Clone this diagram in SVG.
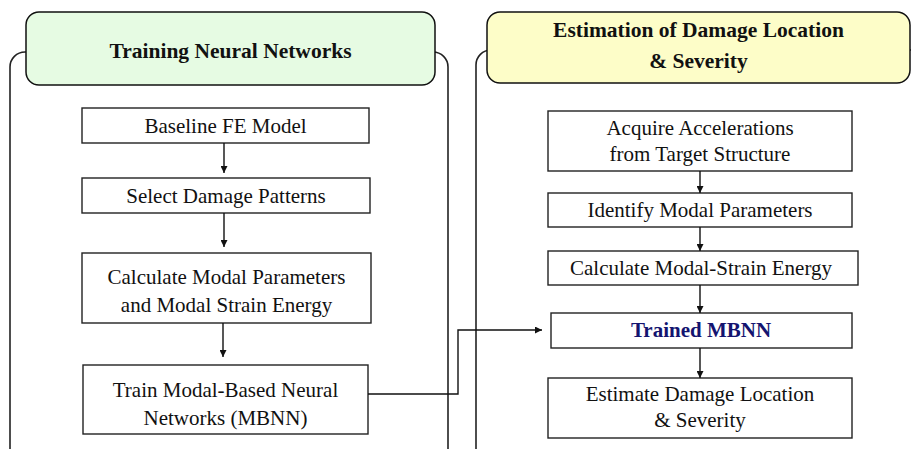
<svg xmlns="http://www.w3.org/2000/svg" width="911" height="449" viewBox="0 0 911 449">
<defs>
<style>
.panel{fill:none;stroke:#222;stroke-width:1.6}
.title-g{fill:#e6fbe3;stroke:#111;stroke-width:1.5}
.title-y{fill:#fdfdc8;stroke:#111;stroke-width:1.5}
.box{fill:#fff;stroke:#222;stroke-width:1.4}
.t{font-family:"Liberation Serif","Times New Roman",serif;font-size:21px;fill:#111;text-anchor:middle}
.tt{font-family:"Liberation Serif","Times New Roman",serif;font-size:21.5px;font-weight:bold;fill:#111;text-anchor:middle}
.tb{font-family:"Liberation Serif","Times New Roman",serif;font-size:21px;font-weight:bold;fill:#141470;text-anchor:middle}
.c{fill:none;stroke:#111;stroke-width:1.4}
</style>
<marker id="ah" viewBox="0 0 10 10" refX="10" refY="5" markerWidth="7" markerHeight="7" markerUnits="userSpaceOnUse" orient="auto">
<path d="M0,0 L10,5 L0,10 z" fill="#111"/>
</marker>
</defs>
<rect width="911" height="449" fill="#fff"/>

<g id="panel-left">
<rect class="panel" x="10" y="52" width="438" height="412" rx="15"/>
<rect class="title-g" x="26" y="12" width="409" height="73" rx="13"/>
<text class="tt" x="230.5" y="58">Training Neural Networks</text>
</g>

<g id="panel-right">
<rect class="panel" x="476" y="50" width="460" height="414" rx="15"/>
<rect class="title-y" x="487" y="12" width="423" height="71" rx="13"/>
<text class="tt" x="698.5" y="37">Estimation of Damage Location</text>
<text class="tt" x="698.5" y="68">&amp; Severity</text>
</g>

<g id="baseline">
<rect class="box" x="82" y="108" width="287" height="35"/>
<text class="t" x="225.5" y="133">Baseline FE Model</text>
</g>
<g id="select">
<rect class="box" x="82" y="178" width="288" height="35"/>
<text class="t" x="226" y="203">Select Damage Patterns</text>
</g>
<g id="calc">
<rect class="box" x="82" y="253" width="289" height="70"/>
<text class="t" x="226.5" y="284">Calculate Modal Parameters</text>
<text class="t" x="226.5" y="312">and Modal Strain Energy</text>
</g>
<g id="train">
<rect class="box" x="83" y="365" width="285" height="69"/>
<text class="t" x="225.5" y="397">Train Modal-Based Neural</text>
<text class="t" x="225.5" y="425">Networks (MBNN)</text>
</g>

<g id="acquire">
<rect class="box" x="548" y="111" width="304" height="60"/>
<text class="t" x="700" y="135">Acquire Accelerations</text>
<text class="t" x="700" y="161">from Target Structure</text>
</g>
<g id="identify">
<rect class="box" x="548" y="193" width="304" height="34"/>
<text class="t" x="700" y="217">Identify Modal Parameters</text>
</g>
<g id="calc-mse">
<rect class="box" x="548" y="251" width="310" height="34"/>
<text class="t" x="701" y="275">Calculate Modal-Strain Energy</text>
</g>
<g id="trained">
<rect class="box" x="551" y="313" width="301" height="35"/>
<text class="tb" x="701" y="337">Trained MBNN</text>
</g>
<g id="estimate">
<rect class="box" x="548" y="378" width="304" height="60"/>
<text class="t" x="700" y="401">Estimate Damage Location</text>
<text class="t" x="700" y="427">&amp; Severity</text>
</g>

<g id="connectors">
<line class="c" x1="224" y1="143" x2="224" y2="173" marker-end="url(#ah)"/>
<line class="c" x1="224" y1="213" x2="224" y2="247" marker-end="url(#ah)"/>
<line class="c" x1="223" y1="323" x2="223" y2="357" marker-end="url(#ah)"/>
<line class="c" x1="700" y1="171" x2="700" y2="193" marker-end="url(#ah)"/>
<line class="c" x1="700" y1="227" x2="700" y2="251" marker-end="url(#ah)"/>
<line class="c" x1="700" y1="285" x2="700" y2="313" marker-end="url(#ah)"/>
<line class="c" x1="700" y1="348" x2="700" y2="378" marker-end="url(#ah)"/>
<polyline class="c" points="368,394 458,394 458,330 542,330" marker-end="url(#ah)"/>
</g>
</svg>
